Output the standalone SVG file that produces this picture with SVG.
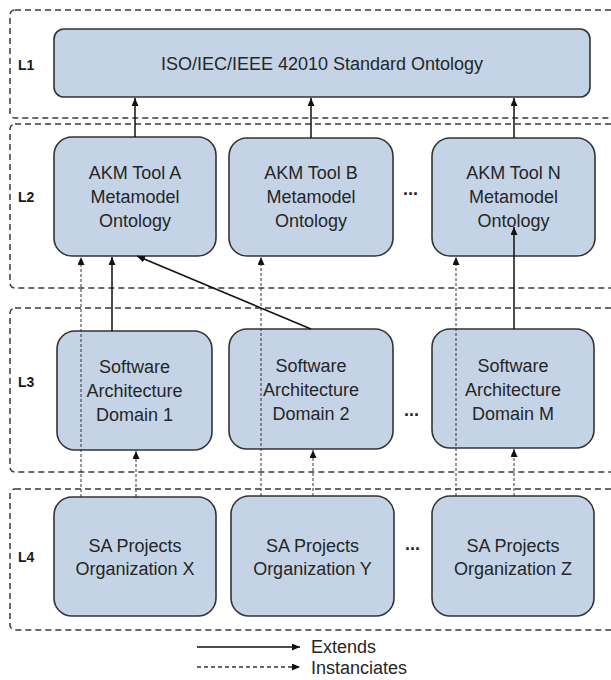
<svg xmlns="http://www.w3.org/2000/svg" width="611" height="680" viewBox="0 0 611 680">
  <defs>
    <style>
      .layer { fill: none; stroke: #3a3a3a; stroke-width: 1.5; stroke-dasharray: 6 4; }
      .node { fill: #c4d4e6; stroke: #333333; stroke-width: 1.6; }
      .lbl { font-family: "Liberation Sans", Arial, sans-serif; font-size: 18px; fill: #262626; text-anchor: middle; }
      .lvl { font-family: "Liberation Sans", Arial, sans-serif; font-size: 14px; font-weight: bold; fill: #1a1a1a; }
      .dots { font-family: "Liberation Sans", Arial, sans-serif; font-size: 18px; font-weight: bold; fill: #262626; }
      .ext { fill: none; stroke: #111111; stroke-width: 1.5; marker-end: url(#head); }
      .inst { fill: none; stroke: #333333; stroke-width: 1; stroke-dasharray: 3 2; marker-end: url(#head); }
      .leg { font-family: "Liberation Sans", Arial, sans-serif; font-size: 18px; fill: #262626; }
    </style>
    <marker id="head" viewBox="0 0 8 7" refX="8" refY="3.5" markerWidth="8" markerHeight="7" markerUnits="userSpaceOnUse" orient="auto">
      <path d="M0,0 L8,3.5 L0,7 z" fill="#111111"/>
    </marker>
  </defs>

  <!-- layer frames -->
  <g id="layers">
    <rect class="layer" x="10" y="10" width="640" height="108" rx="5"/>
    <rect class="layer" x="10" y="124" width="640" height="164" rx="5"/>
    <rect class="layer" x="10" y="308" width="640" height="164" rx="5"/>
    <rect class="layer" x="10" y="489" width="640" height="141" rx="5"/>
    <text class="lvl" x="18" y="70">L1</text>
    <text class="lvl" x="18" y="202">L2</text>
    <text class="lvl" x="18" y="387">L3</text>
    <text class="lvl" x="18" y="562">L4</text>
  </g>

  <!-- L1 -->
  <g id="std-ontology">
    <rect class="node" x="54" y="29" width="536" height="68" rx="10"/>
    <text class="lbl" x="322" y="70">ISO/IEC/IEEE 42010 Standard Ontology</text>
  </g>

  <!-- L2 -->
  <g id="akm-a">
    <rect class="node" x="54" y="137" width="162" height="119" rx="18"/>
    <text class="lbl" x="135" y="179">AKM Tool A</text>
    <text class="lbl" x="135" y="203">Metamodel</text>
    <text class="lbl" x="135" y="227">Ontology</text>
  </g>
  <g id="akm-b">
    <rect class="node" x="229" y="138" width="164" height="118" rx="18"/>
    <text class="lbl" x="311" y="179">AKM Tool B</text>
    <text class="lbl" x="311" y="203">Metamodel</text>
    <text class="lbl" x="311" y="227">Ontology</text>
  </g>
  <text class="dots" x="403" y="195">...</text>
  <g id="akm-n">
    <rect class="node" x="432" y="138" width="163" height="118" rx="18"/>
    <text class="lbl" x="513.5" y="179">AKM Tool N</text>
    <text class="lbl" x="513.5" y="203">Metamodel</text>
    <text class="lbl" x="513.5" y="227">Ontology</text>
  </g>

  <!-- L3 -->
  <g id="domain-1">
    <rect class="node" x="57" y="331" width="155" height="119" rx="18"/>
    <text class="lbl" x="134.5" y="373">Software</text>
    <text class="lbl" x="134.5" y="397">Architecture</text>
    <text class="lbl" x="134.5" y="421">Domain 1</text>
  </g>
  <g id="domain-2">
    <rect class="node" x="229" y="329" width="164" height="120" rx="18"/>
    <text class="lbl" x="311" y="372">Software</text>
    <text class="lbl" x="311" y="396">Architecture</text>
    <text class="lbl" x="311" y="420">Domain 2</text>
  </g>
  <text class="dots" x="404" y="416">...</text>
  <g id="domain-m">
    <rect class="node" x="432" y="329" width="162" height="119" rx="18"/>
    <text class="lbl" x="513" y="372">Software</text>
    <text class="lbl" x="513" y="396">Architecture</text>
    <text class="lbl" x="513" y="420">Domain M</text>
  </g>

  <!-- L4 -->
  <g id="org-x">
    <rect class="node" x="54" y="497" width="162" height="119" rx="18"/>
    <text class="lbl" x="135" y="552">SA Projects</text>
    <text class="lbl" x="135" y="575">Organization X</text>
  </g>
  <g id="org-y">
    <rect class="node" x="231" y="496" width="163" height="120" rx="18"/>
    <text class="lbl" x="312.5" y="552">SA Projects</text>
    <text class="lbl" x="312.5" y="575">Organization Y</text>
  </g>
  <text class="dots" x="405" y="550">...</text>
  <g id="org-z">
    <rect class="node" x="432" y="496" width="162" height="120" rx="18"/>
    <text class="lbl" x="513" y="552">SA Projects</text>
    <text class="lbl" x="513" y="575">Organization Z</text>
  </g>

  <!-- connectors -->
  <g id="connectors">
    <!-- extends -->
    <line class="ext" x1="135" y1="137" x2="135" y2="98"/>
    <line class="ext" x1="311" y1="138" x2="311" y2="98"/>
    <line class="ext" x1="514" y1="138" x2="514" y2="98"/>
    <line class="ext" x1="112" y1="331" x2="112" y2="257"/>
    <line class="ext" x1="311" y1="329" x2="137" y2="256"/>
    <line class="ext" x1="514" y1="329" x2="514" y2="227"/>
    <!-- instanciates -->
    <line class="inst" x1="81" y1="497" x2="81" y2="257"/>
    <line class="inst" x1="136" y1="497" x2="136" y2="451"/>
    <line class="inst" x1="261" y1="496" x2="261" y2="257"/>
    <line class="inst" x1="313" y1="496" x2="313" y2="450"/>
    <line class="inst" x1="456" y1="496" x2="456" y2="257"/>
    <line class="inst" x1="514" y1="496" x2="514" y2="449"/>
  </g>

  <!-- legend -->
  <g id="legend">
    <line class="ext" x1="197" y1="647" x2="300" y2="647"/>
    <text class="leg" x="311" y="653">Extends</text>
    <line class="inst" x1="197" y1="667" x2="300" y2="667" style="stroke-width:1.4;stroke-dasharray:4 3"/>
    <text class="leg" x="311" y="674">Instanciates</text>
  </g>
</svg>
